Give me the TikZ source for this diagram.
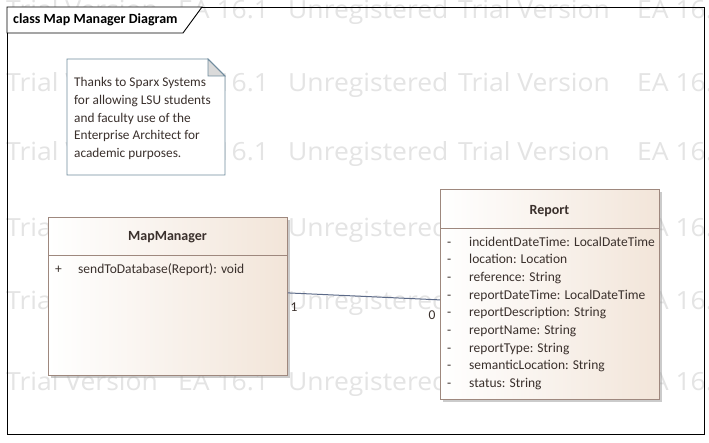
\documentclass[tikz,border=0pt]{standalone}
\usepackage{fontspec}
\setmainfont{Carlito}
\newfontfamily\wmfont[FakeStretch=1.06]{Open Sans}
\usetikzlibrary{positioning, shadows}

\definecolor{classline}{RGB}{158,136,126}
\definecolor{classfill}{RGB}{242,229,217}
\definecolor{noteline}{RGB}{112,140,158}
\definecolor{foldfill}{RGB}{218,218,218}
\definecolor{assocline}{RGB}{92,106,136}
\definecolor{wmgray}{RGB}{228,228,228}
\definecolor{umltext}{RGB}{58,48,44}

\tikzset{
  classbox/.style={draw=classline, line width=0.8pt, left color=white, right color=classfill,
    anchor=north west, inner sep=0pt,
    drop shadow={shadow xshift=3pt, shadow yshift=-3pt, fill=black!40, opacity=0.5}},
  classname/.style={font=\bfseries\fontsize{14}{16}\selectfont, text=umltext},
  member/.style={font=\fontsize{13.5}{16}\selectfont, text=umltext, anchor=base west, inner sep=0pt},
  notetext/.style={font=\fontsize{13.3}{17.8}\selectfont, text=umltext, align=left, anchor=north west, inner sep=0pt},
  wmark/.style={font=\wmfont\fontsize{25}{25}\selectfont, text=wmgray, anchor=base west, inner sep=0pt},
  mult/.style={font=\fontsize{13.5}{16}\selectfont, text=umltext, inner sep=0pt},
}

\begin{document}
\begin{tikzpicture}[x=1pt, y=-1pt]
  \fill[white] (0,0) rectangle (709,443);
  \useasboundingbox (0,0) rectangle (709,443);

  % watermark
  \begin{scope}
    \clip (0,0) rectangle (709,443);
    \foreach \wy in {19, 92, 161, 237, 310, 390} {
      \foreach \wx/\wtext in {6/Trial Version, 178/EA 16.1, 288/Unregistered, 458/Trial Version, 637/EA 16.1} {
        \node[wmark] (wm-\wx-\wy) at (\wx,\wy) {\wtext};
      }
    }
  \end{scope}

  % frame
  \draw[line width=0.9pt] (7,7) rectangle (704,434);
  \filldraw[fill=white, line width=0.9pt] (7,7) -- (202,7) -- (183,33) -- (7,33) -- cycle;
  \node[font=\bfseries\fontsize{14}{16}\selectfont, anchor=west, inner sep=0pt] (title) at (13,20) {class Map Manager Diagram};

  % note
  \fill[white] (67,59) -- (208,59) -- (225,76) -- (225,175) -- (67,175) -- cycle;
  \filldraw[draw=noteline, fill=foldfill, line width=0.8pt] (208,59) -- (225,76) -- (208,76) -- cycle;
  \draw[noteline, line width=0.8pt] (67,59) -- (208,59) -- (225,76) -- (225,175) -- (67,175) -- cycle;
  \node[notetext] (note) at (74,77) {Thanks to Sparx Systems\\for allowing LSU students\\and faculty use of the\\Enterprise Architect for\\academic purposes.};

  % MapManager
  \node[classbox, minimum width=239pt, minimum height=158pt] (mapmgr) at (48,217) {};
  \draw[classline, line width=0.8pt] (48,255) -- (287,255);
  \node[classname] (mapmgrname) at (167.5,237) {MapManager};
  \node[member] (op1sign) at (55,274) {+};
  \node[member] (op1) at (78,274) {sendToDatabase(Report): void};

  % Report
  \node[classbox, minimum width=219pt, minimum height=210pt] (report) at (440,189) {};
  \draw[classline, line width=0.8pt] (440,228) -- (659,228);
  \node[classname] (reportname) at (549.5,211) {Report};
  \foreach \attr [count=\i] in {incidentDateTime: LocalDateTime, location: Location,
      reference: String, reportDateTime: LocalDateTime, reportDescription: String,
      reportName: String, reportType: String, semanticLocation: String, status: String} {
    \node[member] (sign\i) at (447,{228.5+17.65*\i}) {-};
    \node[member] (attr\i) at (469,{228.5+17.65*\i}) {\attr};
  }

  % association
  \draw[assocline, line width=1pt] ([yshift=3.5pt]mapmgr.east) -- ([yshift=-5.5pt]report.west);
  \node[mult] (mult1) at (294,307) {1};
  \node[mult] (mult0) at (432,315) {0};
\end{tikzpicture}
\end{document}
